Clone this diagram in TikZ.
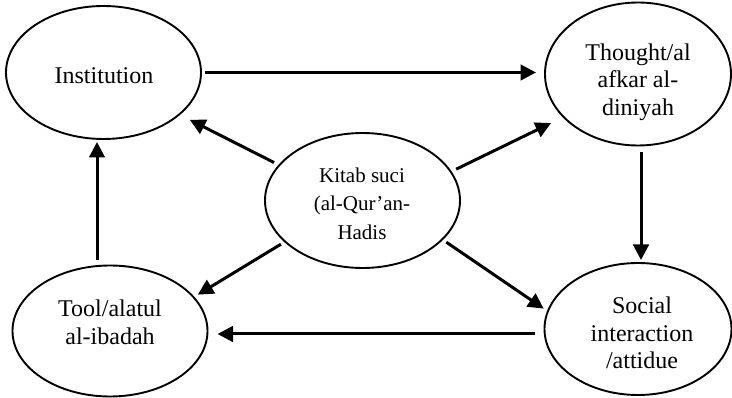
\documentclass[tikz,border=0pt]{standalone}
\usepackage{fontspec}
\setmainfont{Liberation Serif}
\usetikzlibrary{shapes.geometric,arrows.meta}
\begin{document}
\begin{tikzpicture}[x=1pt,y=-1pt,
  oval/.style={draw, ellipse, line width=1.9pt, inner sep=0pt, outer sep=0pt},
  lbl/.style={align=center, font=\fontsize{24}{27.5}\selectfont, inner sep=0pt},
  lblsmall/.style={lbl, font=\fontsize{21}{28.5}\selectfont},
  arr/.style={line width=3pt, -{Triangle[length=15.5pt,width=15.5pt]}}]
\useasboundingbox (0,0) rectangle (732,398);
% ellipses
\node[oval, minimum width=195pt, minimum height=133pt] (inst) at (103.5,72.5) {};
\node[oval, minimum width=186pt, minimum height=143pt] (thought) at (638,74) {};
\node[oval, minimum width=195pt, minimum height=135pt] (kitab) at (362.5,200.5) {};
\node[oval, minimum width=195pt, minimum height=131pt] (tool) at (110,331) {};
\node[oval, minimum width=187pt, minimum height=132pt] (social) at (638,329) {};
% texts
\node[lbl] (instT) at (104,75.5) {Institution};
\node[lbl] (thoughtT) at (638,82) {Thought/al\\afkar al-\\diniyah};
\node[lblsmall] (kitabT) at (362,203.5) {Kitab suci\\(al-Qur’an-\\Hadis};
\node[lbl] (toolT) at (110,322.5) {Tool/alatul\\al-ibadah};
\node[lbl] (socialT) at (642,333) {Social\\interaction\\/attidue};
% connectors
\draw[arr, shorten <=4pt, shorten >=9pt] (inst.east) -- (inst.east -| thought.west);
\draw[arr, shorten <=7pt, shorten >=3pt] ([xshift=3pt]thought.south) -- ([xshift=3pt]thought.south |- social.north);
\draw[arr, shorten <=10pt, shorten >=10pt] ([yshift=-5pt]social.west) -- ([yshift=-5pt]social.west -| tool.east);
\draw[arr, shorten <=5pt, shorten >=3pt] ([xshift=-13pt]tool.north) -- ([xshift=-13pt]tool.north |- inst.south);
\draw[arr, shorten <=6pt, shorten >=12pt] (kitab.157) -- (inst.331);
\draw[arr, shorten <=6pt, shorten >=14pt] (kitab.18) -- (thought.210);
\draw[arr, shorten <=5pt, shorten >=5pt] (kitab.208) -- (tool.22);
\draw[arr, shorten <=5pt, shorten >=5pt] (kitab.334) -- (social.169);
\end{tikzpicture}
\end{document}
